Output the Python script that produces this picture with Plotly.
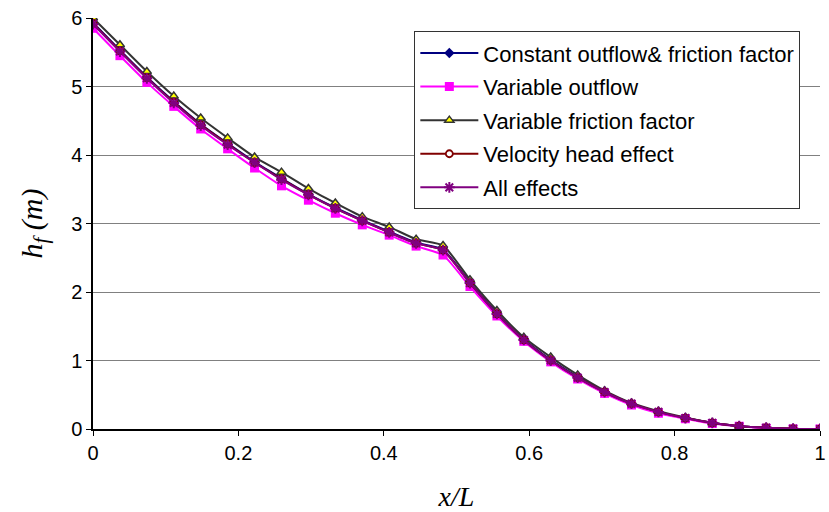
import plotly.graph_objects as go

n_pts = 28
x_vals = [i / 27 for i in range(n_pts)]

const_outflow = [5.93, 5.53, 5.14, 4.78, 4.45, 4.17, 3.90, 3.66, 3.43, 3.23, 3.05, 2.88, 2.72, 2.62,
                 2.14, 1.69, 1.31, 1.01, 0.76, 0.54, 0.37, 0.25, 0.16, 0.09, 0.04, 0.02, 0.005, 0.0]
var_outflow = [5.85, 5.45, 5.06, 4.71, 4.38, 4.09, 3.81, 3.55, 3.34, 3.15, 2.98, 2.83, 2.67, 2.54,
               2.08, 1.65, 1.28, 0.98, 0.73, 0.52, 0.35, 0.23, 0.15, 0.08, 0.04, 0.01, 0.0, 0.0]
var_friction = [6.00, 5.61, 5.22, 4.86, 4.54, 4.25, 3.97, 3.75, 3.51, 3.30, 3.10, 2.95, 2.77, 2.68,
                2.18, 1.73, 1.34, 1.05, 0.79, 0.56, 0.38, 0.26, 0.17, 0.09, 0.04, 0.02, 0.005, 0.0]
vel_head = [5.92, 5.52, 5.13, 4.77, 4.44, 4.16, 3.89, 3.65, 3.42, 3.22, 3.04, 2.87, 2.71, 2.61,
            2.13, 1.68, 1.30, 1.00, 0.75, 0.54, 0.37, 0.25, 0.16, 0.09, 0.04, 0.02, 0.005, 0.0]
all_effects = [5.91, 5.51, 5.12, 4.76, 4.43, 4.15, 3.89, 3.64, 3.42, 3.22, 3.04, 2.87, 2.71, 2.61,
               2.13, 1.68, 1.30, 1.00, 0.75, 0.54, 0.37, 0.25, 0.16, 0.09, 0.04, 0.02, 0.005, 0.0]

names = ["Constant outflow& friction factor", "Variable outflow", "Variable friction factor",
         "Velocity head effect", "All effects"]
x_ticks = [0, 0.2, 0.4, 0.6, 0.8, 1]
x_tick_labels = ["0", "0.2", "0.4", "0.6", "0.8", "1"]
y_ticks = [0, 1, 2, 3, 4, 5, 6]

series = [
    (names[0], const_outflow, "#000080", dict(symbol="diamond", size=8, color="#000080",
                                               line=dict(width=0))),
    (names[1], var_outflow, "#FF00FF", dict(symbol="square", size=9, color="#FF00FF",
                                             line=dict(width=0))),
    (names[2], var_friction, "#333333", dict(symbol="triangle-up", size=8, color="#FFFF00",
                                              line=dict(width=1.5, color="#333333"))),
    (names[3], vel_head, "#800000", dict(symbol="circle", size=7, color="white",
                                          line=dict(width=1.8, color="#800000"))),
    (names[4], all_effects, "#800080", dict(symbol="asterisk-open", size=9, color="#800080",
                                             line=dict(width=2, color="#800080"))),
]

fig = go.Figure()
for i, (name, ys, col, mk) in enumerate(series):
    fig.add_trace(go.Scatter(
        x=x_vals, y=ys, name=name, mode="lines+markers", legendgroup=f"g{i}",
        line=dict(color=col, width=2, shape="spline", smoothing=0.5),
        marker=mk,
    ))

fig.update_layout(
    width=829, height=512,
    margin=dict(l=93, r=3, t=18, b=83),
    paper_bgcolor="white", plot_bgcolor="white",
    font=dict(family="Liberation Sans, Arial, sans-serif", size=20, color="black"),
    legend=dict(
        x=0.442, y=0.968, xanchor="left", yanchor="top",
        bgcolor="white", bordercolor="#333333", borderwidth=1,
        font=dict(size=22, family="Liberation Sans, Arial, sans-serif"),
        tracegroupgap=2, itemwidth=58,
    ),
    xaxis=dict(
        range=[0, 1], tickvals=x_ticks, ticktext=x_tick_labels,
        showgrid=False, zeroline=False, ticklabeloverflow="allow",
        showline=True, linecolor="black", linewidth=1.5,
        ticks="outside", ticklen=5, tickcolor="black",
        tickfont=dict(size=20),
        title=dict(text="<i>x/L</i>", font=dict(family="Liberation Serif, Times New Roman, serif", size=28),
                   standoff=26),
    ),
    yaxis=dict(
        range=[0, 6], tickvals=y_ticks,
        showgrid=True, gridcolor="#808080", gridwidth=1.2, zeroline=False,
        showline=True, linecolor="black", linewidth=1.5,
        ticks="outside", ticklen=5, tickcolor="black",
        tickfont=dict(size=20),
        title=dict(text="<i>h<sub>f</sub> (m)</i>",
                   font=dict(family="Liberation Serif, Times New Roman, serif", size=30),
                   standoff=20),
    ),
)

fig.write_html("out.html")
